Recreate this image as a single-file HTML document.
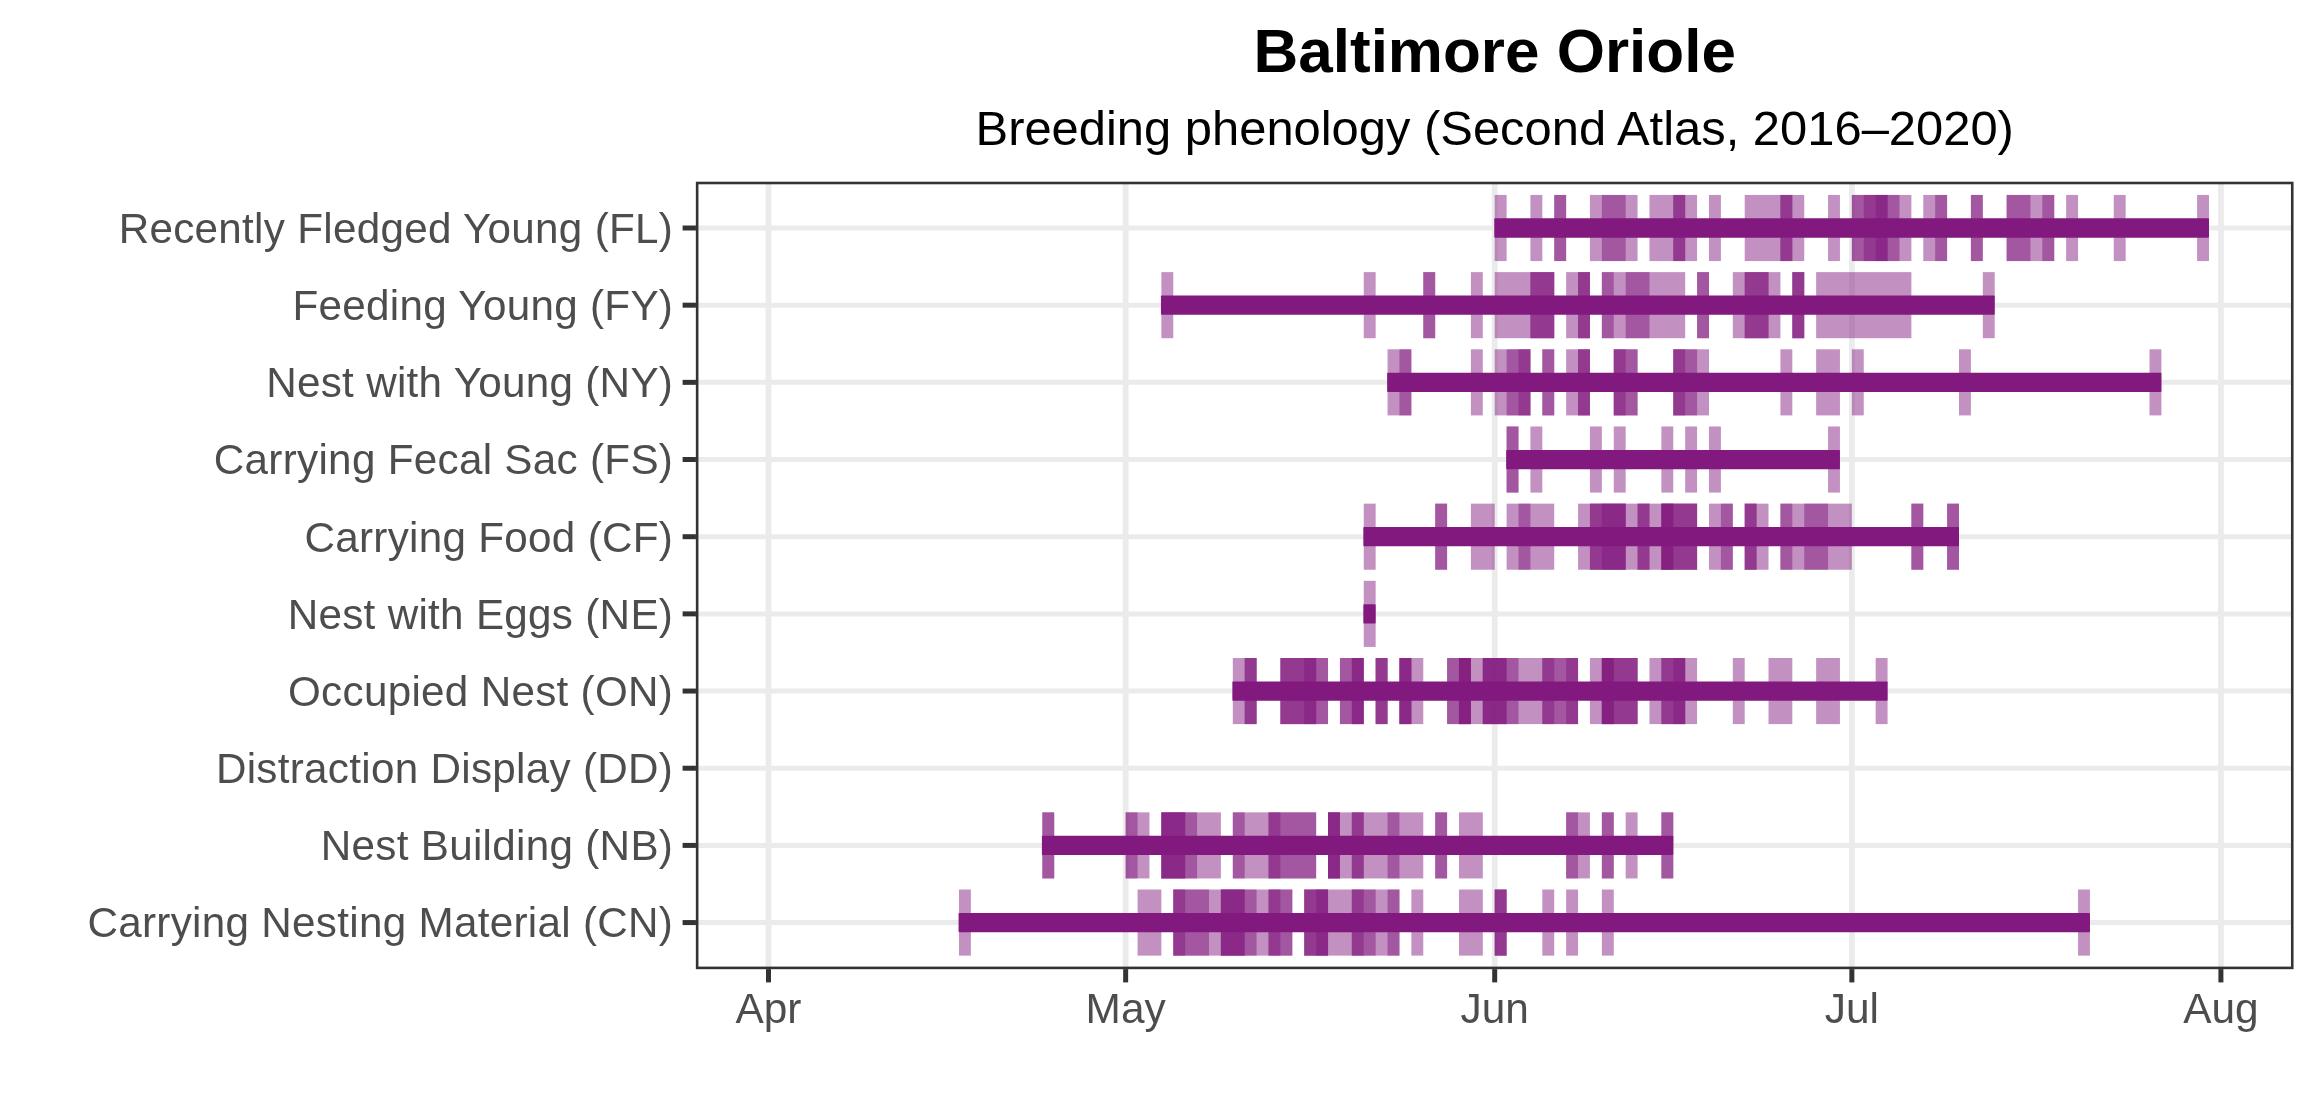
<!DOCTYPE html>
<html><head><meta charset="utf-8"><title>Baltimore Oriole</title>
<style>html,body{margin:0;padding:0;background:#fff}svg{display:block;will-change:transform}text{font-family:"Liberation Sans",sans-serif}</style></head><body>
<svg width="2320" height="1120" viewBox="0 0 2320 1120">
<rect width="2320" height="1120" fill="#fff"/>
<g stroke="#EBEBEB" stroke-width="5" fill="none">
<line x1="697.15" x2="2292.25" y1="228" y2="228"/>
<line x1="697.15" x2="2292.25" y1="305.18" y2="305.18"/>
<line x1="697.15" x2="2292.25" y1="382.35" y2="382.35"/>
<line x1="697.15" x2="2292.25" y1="459.52" y2="459.52"/>
<line x1="697.15" x2="2292.25" y1="536.7" y2="536.7"/>
<line x1="697.15" x2="2292.25" y1="613.88" y2="613.88"/>
<line x1="697.15" x2="2292.25" y1="691.05" y2="691.05"/>
<line x1="697.15" x2="2292.25" y1="768.23" y2="768.23"/>
<line x1="697.15" x2="2292.25" y1="845.4" y2="845.4"/>
<line x1="697.15" x2="2292.25" y1="922.57" y2="922.57"/>
<line x1="768.5" x2="768.5" y1="183" y2="967.9" stroke-width="5.8"/>
<line x1="1125.65" x2="1125.65" y1="183" y2="967.9" stroke-width="5.8"/>
<line x1="1494.7" x2="1494.7" y1="183" y2="967.9" stroke-width="5.8"/>
<line x1="1851.86" x2="1851.86" y1="183" y2="967.9" stroke-width="5.8"/>
<line x1="2220.91" x2="2220.91" y1="183" y2="967.9" stroke-width="5.8"/>
</g>
<g fill="#82197E">
<g fill-opacity="0.48">
<rect x="1494.7" y="194.95" width="11.91" height="66.1"/>
<rect x="1530.42" y="194.95" width="11.9" height="66.1"/>
<rect x="1554.23" y="194.95" width="11.9" height="66.1"/>
<rect x="1589.94" y="194.95" width="47.62" height="66.1"/>
<rect x="1649.47" y="194.95" width="47.62" height="66.1"/>
<rect x="1708.99" y="194.95" width="11.91" height="66.1"/>
<rect x="1744.71" y="194.95" width="59.52" height="66.1"/>
<rect x="1828.04" y="194.95" width="11.91" height="66.1"/>
<rect x="1851.86" y="194.95" width="59.52" height="66.1"/>
<rect x="1923.28" y="194.95" width="23.81" height="66.1"/>
<rect x="1970.9" y="194.95" width="11.9" height="66.1"/>
<rect x="2006.62" y="194.95" width="47.62" height="66.1"/>
<rect x="2066.14" y="194.95" width="11.91" height="66.1"/>
<rect x="2113.76" y="194.95" width="11.91" height="66.1"/>
<rect x="2197.1" y="194.95" width="11.91" height="66.1"/>
<rect x="1554.23" y="194.95" width="11.9" height="66.1"/>
<rect x="1601.85" y="194.95" width="23.81" height="66.1"/>
<rect x="1673.28" y="194.95" width="11.9" height="66.1"/>
<rect x="1780.42" y="194.95" width="11.9" height="66.1"/>
<rect x="1851.86" y="194.95" width="47.62" height="66.1"/>
<rect x="1935.19" y="194.95" width="11.91" height="66.1"/>
<rect x="1970.9" y="194.95" width="11.9" height="66.1"/>
<rect x="2006.62" y="194.95" width="23.81" height="66.1"/>
<rect x="2042.34" y="194.95" width="11.9" height="66.1"/>
<rect x="1673.28" y="194.95" width="11.9" height="66.1"/>
<rect x="1780.42" y="194.95" width="11.9" height="66.1"/>
<rect x="1863.76" y="194.95" width="23.81" height="66.1"/>
<rect x="1875.66" y="194.95" width="11.9" height="66.1"/>
</g>
<rect x="1494.3" y="218.35" width="714.7" height="19.3" rx="0.8"/>
</g>
<g fill="#82197E">
<g fill-opacity="0.48">
<rect x="1161.37" y="272.12" width="11.9" height="66.1"/>
<rect x="1363.75" y="272.12" width="11.9" height="66.1"/>
<rect x="1423.28" y="272.12" width="11.9" height="66.1"/>
<rect x="1470.89" y="272.12" width="11.9" height="66.1"/>
<rect x="1494.7" y="272.12" width="59.53" height="66.1"/>
<rect x="1566.13" y="272.12" width="23.81" height="66.1"/>
<rect x="1601.85" y="272.12" width="83.34" height="66.1"/>
<rect x="1697.09" y="272.12" width="11.9" height="66.1"/>
<rect x="1732.8" y="272.12" width="47.62" height="66.1"/>
<rect x="1792.33" y="272.12" width="11.9" height="66.1"/>
<rect x="1816.14" y="272.12" width="95.24" height="66.1"/>
<rect x="1982.81" y="272.12" width="11.9" height="66.1"/>
<rect x="1423.28" y="272.12" width="11.9" height="66.1"/>
<rect x="1530.42" y="272.12" width="23.81" height="66.1"/>
<rect x="1578.04" y="272.12" width="11.9" height="66.1"/>
<rect x="1601.85" y="272.12" width="11.91" height="66.1"/>
<rect x="1625.66" y="272.12" width="23.81" height="66.1"/>
<rect x="1697.09" y="272.12" width="11.9" height="66.1"/>
<rect x="1744.71" y="272.12" width="23.81" height="66.1"/>
<rect x="1792.33" y="272.12" width="11.9" height="66.1"/>
<rect x="1530.42" y="272.12" width="23.81" height="66.1"/>
<rect x="1578.04" y="272.12" width="11.9" height="66.1"/>
<rect x="1744.71" y="272.12" width="23.81" height="66.1"/>
<rect x="1792.33" y="272.12" width="11.9" height="66.1"/>
</g>
<rect x="1160.96" y="295.53" width="833.75" height="19.3" rx="0.8"/>
</g>
<g fill="#82197E">
<g fill-opacity="0.48">
<rect x="1387.56" y="349.3" width="23.81" height="66.1"/>
<rect x="1470.89" y="349.3" width="11.9" height="66.1"/>
<rect x="1494.7" y="349.3" width="35.72" height="66.1"/>
<rect x="1542.32" y="349.3" width="11.91" height="66.1"/>
<rect x="1566.13" y="349.3" width="23.81" height="66.1"/>
<rect x="1613.76" y="349.3" width="23.81" height="66.1"/>
<rect x="1673.28" y="349.3" width="35.71" height="66.1"/>
<rect x="1780.42" y="349.3" width="11.9" height="66.1"/>
<rect x="1816.14" y="349.3" width="23.81" height="66.1"/>
<rect x="1851.86" y="349.3" width="11.9" height="66.1"/>
<rect x="1959" y="349.3" width="11.9" height="66.1"/>
<rect x="2149.48" y="349.3" width="11.91" height="66.1"/>
<rect x="1399.46" y="349.3" width="11.9" height="66.1"/>
<rect x="1506.61" y="349.3" width="23.81" height="66.1"/>
<rect x="1542.32" y="349.3" width="11.91" height="66.1"/>
<rect x="1578.04" y="349.3" width="11.9" height="66.1"/>
<rect x="1613.76" y="349.3" width="23.81" height="66.1"/>
<rect x="1673.28" y="349.3" width="23.81" height="66.1"/>
<rect x="1518.51" y="349.3" width="11.91" height="66.1"/>
<rect x="1578.04" y="349.3" width="11.9" height="66.1"/>
<rect x="1613.76" y="349.3" width="11.9" height="66.1"/>
<rect x="1673.28" y="349.3" width="11.9" height="66.1"/>
</g>
<rect x="1387.16" y="372.7" width="774.23" height="19.3" rx="0.8"/>
</g>
<g fill="#82197E">
<g fill-opacity="0.48">
<rect x="1506.61" y="426.47" width="11.9" height="66.1"/>
<rect x="1530.42" y="426.47" width="11.9" height="66.1"/>
<rect x="1589.94" y="426.47" width="11.9" height="66.1"/>
<rect x="1613.76" y="426.47" width="11.9" height="66.1"/>
<rect x="1661.38" y="426.47" width="11.9" height="66.1"/>
<rect x="1685.18" y="426.47" width="11.9" height="66.1"/>
<rect x="1708.99" y="426.47" width="11.91" height="66.1"/>
<rect x="1828.04" y="426.47" width="11.91" height="66.1"/>
<rect x="1506.61" y="426.47" width="11.9" height="66.1"/>
</g>
<rect x="1506.21" y="449.88" width="333.74" height="19.3" rx="0.8"/>
</g>
<g fill="#82197E">
<g fill-opacity="0.48">
<rect x="1363.75" y="503.65" width="11.9" height="66.1"/>
<rect x="1435.18" y="503.65" width="11.91" height="66.1"/>
<rect x="1470.89" y="503.65" width="23.81" height="66.1"/>
<rect x="1506.61" y="503.65" width="47.62" height="66.1"/>
<rect x="1578.04" y="503.65" width="119.05" height="66.1"/>
<rect x="1708.99" y="503.65" width="23.81" height="66.1"/>
<rect x="1744.71" y="503.65" width="23.81" height="66.1"/>
<rect x="1780.42" y="503.65" width="71.43" height="66.1"/>
<rect x="1911.38" y="503.65" width="11.9" height="66.1"/>
<rect x="1947.1" y="503.65" width="11.9" height="66.1"/>
<rect x="1435.18" y="503.65" width="11.91" height="66.1"/>
<rect x="1518.51" y="503.65" width="11.91" height="66.1"/>
<rect x="1589.94" y="503.65" width="35.71" height="66.1"/>
<rect x="1637.57" y="503.65" width="11.9" height="66.1"/>
<rect x="1661.38" y="503.65" width="35.71" height="66.1"/>
<rect x="1720.9" y="503.65" width="11.9" height="66.1"/>
<rect x="1744.71" y="503.65" width="11.9" height="66.1"/>
<rect x="1780.42" y="503.65" width="11.9" height="66.1"/>
<rect x="1804.23" y="503.65" width="23.81" height="66.1"/>
<rect x="1911.38" y="503.65" width="11.9" height="66.1"/>
<rect x="1947.1" y="503.65" width="11.9" height="66.1"/>
<rect x="1589.94" y="503.65" width="35.71" height="66.1"/>
<rect x="1637.57" y="503.65" width="11.9" height="66.1"/>
<rect x="1661.38" y="503.65" width="35.71" height="66.1"/>
<rect x="1744.71" y="503.65" width="11.9" height="66.1"/>
<rect x="1601.85" y="503.65" width="23.81" height="66.1"/>
<rect x="1661.38" y="503.65" width="11.9" height="66.1"/>
<rect x="1661.38" y="503.65" width="11.9" height="66.1"/>
</g>
<rect x="1363.35" y="527.05" width="595.65" height="19.3" rx="0.8"/>
</g>
<g fill="#82197E">
<g fill-opacity="0.48">
<rect x="1363.75" y="580.83" width="11.9" height="66.1"/>
</g>
<rect x="1363.35" y="604.23" width="12.3" height="19.3" rx="0.8"/>
</g>
<g fill="#82197E">
<g fill-opacity="0.48">
<rect x="1232.8" y="658" width="23.81" height="66.1"/>
<rect x="1280.41" y="658" width="47.62" height="66.1"/>
<rect x="1339.94" y="658" width="23.81" height="66.1"/>
<rect x="1375.65" y="658" width="11.9" height="66.1"/>
<rect x="1399.46" y="658" width="23.81" height="66.1"/>
<rect x="1447.09" y="658" width="130.95" height="66.1"/>
<rect x="1589.94" y="658" width="47.62" height="66.1"/>
<rect x="1649.47" y="658" width="47.62" height="66.1"/>
<rect x="1732.8" y="658" width="11.91" height="66.1"/>
<rect x="1768.52" y="658" width="23.81" height="66.1"/>
<rect x="1816.14" y="658" width="23.81" height="66.1"/>
<rect x="1875.66" y="658" width="11.9" height="66.1"/>
<rect x="1244.7" y="658" width="11.9" height="66.1"/>
<rect x="1280.41" y="658" width="47.62" height="66.1"/>
<rect x="1339.94" y="658" width="23.81" height="66.1"/>
<rect x="1375.65" y="658" width="11.9" height="66.1"/>
<rect x="1399.46" y="658" width="11.9" height="66.1"/>
<rect x="1447.09" y="658" width="23.81" height="66.1"/>
<rect x="1482.8" y="658" width="35.71" height="66.1"/>
<rect x="1542.32" y="658" width="35.72" height="66.1"/>
<rect x="1601.85" y="658" width="35.72" height="66.1"/>
<rect x="1661.38" y="658" width="23.81" height="66.1"/>
<rect x="1244.7" y="658" width="11.9" height="66.1"/>
<rect x="1280.41" y="658" width="35.72" height="66.1"/>
<rect x="1351.84" y="658" width="11.91" height="66.1"/>
<rect x="1375.65" y="658" width="11.9" height="66.1"/>
<rect x="1399.46" y="658" width="11.9" height="66.1"/>
<rect x="1458.99" y="658" width="11.9" height="66.1"/>
<rect x="1482.8" y="658" width="23.81" height="66.1"/>
<rect x="1542.32" y="658" width="11.91" height="66.1"/>
<rect x="1566.13" y="658" width="11.9" height="66.1"/>
<rect x="1601.85" y="658" width="35.72" height="66.1"/>
<rect x="1661.38" y="658" width="23.81" height="66.1"/>
<rect x="1304.22" y="658" width="11.91" height="66.1"/>
<rect x="1351.84" y="658" width="11.91" height="66.1"/>
<rect x="1399.46" y="658" width="11.9" height="66.1"/>
<rect x="1458.99" y="658" width="11.9" height="66.1"/>
<rect x="1482.8" y="658" width="23.81" height="66.1"/>
<rect x="1601.85" y="658" width="11.91" height="66.1"/>
<rect x="1673.28" y="658" width="11.9" height="66.1"/>
<rect x="1458.99" y="658" width="11.9" height="66.1"/>
<rect x="1601.85" y="658" width="11.91" height="66.1"/>
</g>
<rect x="1232.39" y="681.4" width="655.17" height="19.3" rx="0.8"/>
</g>
<g fill="#82197E">
<g fill-opacity="0.48">
<rect x="1042.32" y="812.35" width="11.9" height="66.1"/>
<rect x="1125.65" y="812.35" width="23.81" height="66.1"/>
<rect x="1161.37" y="812.35" width="59.52" height="66.1"/>
<rect x="1232.8" y="812.35" width="83.34" height="66.1"/>
<rect x="1328.03" y="812.35" width="95.24" height="66.1"/>
<rect x="1435.18" y="812.35" width="11.91" height="66.1"/>
<rect x="1458.99" y="812.35" width="23.81" height="66.1"/>
<rect x="1566.13" y="812.35" width="23.81" height="66.1"/>
<rect x="1601.85" y="812.35" width="11.91" height="66.1"/>
<rect x="1625.66" y="812.35" width="11.91" height="66.1"/>
<rect x="1661.38" y="812.35" width="11.9" height="66.1"/>
<rect x="1042.32" y="812.35" width="11.9" height="66.1"/>
<rect x="1125.65" y="812.35" width="11.9" height="66.1"/>
<rect x="1161.37" y="812.35" width="35.71" height="66.1"/>
<rect x="1232.8" y="812.35" width="11.9" height="66.1"/>
<rect x="1268.51" y="812.35" width="47.62" height="66.1"/>
<rect x="1328.03" y="812.35" width="11.91" height="66.1"/>
<rect x="1351.84" y="812.35" width="11.91" height="66.1"/>
<rect x="1387.56" y="812.35" width="11.9" height="66.1"/>
<rect x="1435.18" y="812.35" width="11.91" height="66.1"/>
<rect x="1566.13" y="812.35" width="11.9" height="66.1"/>
<rect x="1601.85" y="812.35" width="11.91" height="66.1"/>
<rect x="1661.38" y="812.35" width="11.9" height="66.1"/>
<rect x="1161.37" y="812.35" width="23.81" height="66.1"/>
<rect x="1268.51" y="812.35" width="11.9" height="66.1"/>
<rect x="1328.03" y="812.35" width="11.91" height="66.1"/>
<rect x="1351.84" y="812.35" width="11.91" height="66.1"/>
<rect x="1161.37" y="812.35" width="23.81" height="66.1"/>
<rect x="1328.03" y="812.35" width="11.91" height="66.1"/>
</g>
<rect x="1041.91" y="835.75" width="631.36" height="19.3" rx="0.8"/>
</g>
<g fill="#82197E">
<g fill-opacity="0.48">
<rect x="958.98" y="889.52" width="11.9" height="66.1"/>
<rect x="1137.56" y="889.52" width="23.81" height="66.1"/>
<rect x="1173.27" y="889.52" width="119.05" height="66.1"/>
<rect x="1304.22" y="889.52" width="95.24" height="66.1"/>
<rect x="1411.37" y="889.52" width="11.91" height="66.1"/>
<rect x="1458.99" y="889.52" width="23.81" height="66.1"/>
<rect x="1494.7" y="889.52" width="11.91" height="66.1"/>
<rect x="1542.32" y="889.52" width="11.91" height="66.1"/>
<rect x="1566.13" y="889.52" width="11.9" height="66.1"/>
<rect x="1601.85" y="889.52" width="11.91" height="66.1"/>
<rect x="2078.05" y="889.52" width="11.9" height="66.1"/>
<rect x="1173.27" y="889.52" width="35.71" height="66.1"/>
<rect x="1220.89" y="889.52" width="35.72" height="66.1"/>
<rect x="1268.51" y="889.52" width="23.81" height="66.1"/>
<rect x="1304.22" y="889.52" width="23.81" height="66.1"/>
<rect x="1351.84" y="889.52" width="23.81" height="66.1"/>
<rect x="1387.56" y="889.52" width="11.9" height="66.1"/>
<rect x="1494.7" y="889.52" width="11.91" height="66.1"/>
<rect x="1173.27" y="889.52" width="11.9" height="66.1"/>
<rect x="1220.89" y="889.52" width="23.81" height="66.1"/>
<rect x="1268.51" y="889.52" width="11.9" height="66.1"/>
<rect x="1304.22" y="889.52" width="23.81" height="66.1"/>
<rect x="1351.84" y="889.52" width="11.91" height="66.1"/>
<rect x="1494.7" y="889.52" width="11.91" height="66.1"/>
<rect x="1220.89" y="889.52" width="23.81" height="66.1"/>
<rect x="1316.13" y="889.52" width="11.9" height="66.1"/>
</g>
<rect x="958.58" y="912.92" width="1131.38" height="19.3" rx="0.8"/>
</g>
<rect x="697.15" y="183" width="1595.1" height="784.9" fill="none" stroke="#333333" stroke-width="2.6"/>
<g stroke="#333333" stroke-width="5">
<line x1="682.6" x2="695.95" y1="228" y2="228"/>
<line x1="682.6" x2="695.95" y1="305.18" y2="305.18"/>
<line x1="682.6" x2="695.95" y1="382.35" y2="382.35"/>
<line x1="682.6" x2="695.95" y1="459.52" y2="459.52"/>
<line x1="682.6" x2="695.95" y1="536.7" y2="536.7"/>
<line x1="682.6" x2="695.95" y1="613.88" y2="613.88"/>
<line x1="682.6" x2="695.95" y1="691.05" y2="691.05"/>
<line x1="682.6" x2="695.95" y1="768.23" y2="768.23"/>
<line x1="682.6" x2="695.95" y1="845.4" y2="845.4"/>
<line x1="682.6" x2="695.95" y1="922.57" y2="922.57"/>
<line x1="768.5" x2="768.5" y1="969.1" y2="982.4"/>
<line x1="1125.65" x2="1125.65" y1="969.1" y2="982.4"/>
<line x1="1494.7" x2="1494.7" y1="969.1" y2="982.4"/>
<line x1="1851.86" x2="1851.86" y1="969.1" y2="982.4"/>
<line x1="2220.91" x2="2220.91" y1="969.1" y2="982.4"/>
</g>
<g fill="#4D4D4D" font-size="42.2" text-anchor="end" letter-spacing="0.3">
<text x="673.2" y="242.8">Recently Fledged Young (FL)</text>
<text x="673.2" y="319.98">Feeding Young (FY)</text>
<text x="673.2" y="397.15">Nest with Young (NY)</text>
<text x="673.2" y="474.32">Carrying Fecal Sac (FS)</text>
<text x="673.2" y="551.5">Carrying Food (CF)</text>
<text x="673.2" y="628.67">Nest with Eggs (NE)</text>
<text x="673.2" y="705.85">Occupied Nest (ON)</text>
<text x="673.2" y="783.02">Distraction Display (DD)</text>
<text x="673.2" y="860.2">Nest Building (NB)</text>
<text x="673.2" y="937.37">Carrying Nesting Material (CN)</text>
</g>
<g fill="#4D4D4D" font-size="42.4" text-anchor="middle">
<text x="768.5" y="1022.9">Apr</text>
<text x="1125.65" y="1022.9">May</text>
<text x="1494.7" y="1022.9">Jun</text>
<text x="1851.86" y="1022.9">Jul</text>
<text x="2220.91" y="1022.9">Aug</text>
</g>
<text x="1494.7" y="72" font-size="62" font-weight="bold" text-anchor="middle" fill="#000">Baltimore Oriole</text>
<text x="1494.7" y="145" font-size="48.9" text-anchor="middle" fill="#000">Breeding phenology (Second Atlas, 2016–2020)</text>
</svg></body></html>
